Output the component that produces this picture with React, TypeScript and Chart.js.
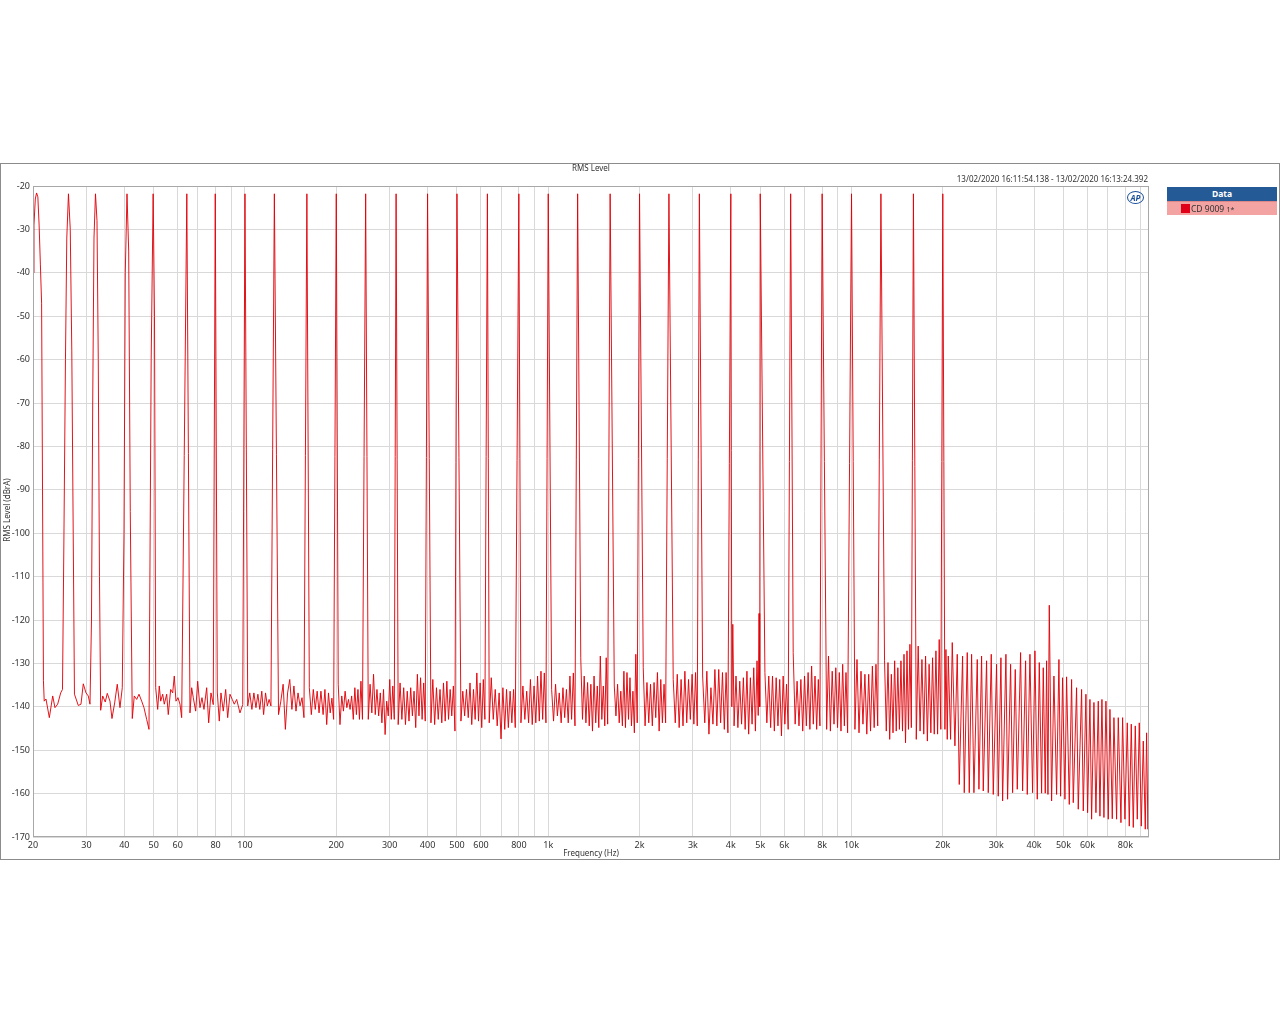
import React, { useEffect, useRef } from 'react';
import { Chart, registerables } from 'chart.js';

Chart.register(...registerables);

// Multitone peaks (Hz, dBrA)
const toneFreqs: number[] = [20.55, 26.18, 32.14, 40.83, 49.8, 64.3, 79.8, 100, 125, 160, 200, 250, 315, 400, 500, 630, 800, 1000, 1250, 1600, 2000, 2500, 3150, 4000, 5000, 6300, 8000, 10000, 12500, 16000, 20000];
const toneLevels: number[] = [-21.6, -21.8, -21.8, -21.8, -21.8, -21.8, -21.8, -21.8, -21.8, -21.8, -21.8, -21.8, -21.8, -21.8, -21.8, -21.8, -21.8, -21.8, -21.8, -21.8, -21.8, -21.8, -21.8, -21.8, -21.8, -21.8, -21.8, -21.8, -21.8, -21.8, -21.8];

// Trace between the tones: [frequency Hz, level dBrA]
const trace20: [number, number][] = [
  [20, -40], [20.15, -29], [20.35, -23], [20.75, -22.5], [20.95, -29], [21.15, -38], [21.35, -47], [21.5, -90], [21.65, -134],
  [21.78, -138.7], [22.07, -138.2], [22.64, -142.5], [23.23, -137.5], [23.63, -140.2], [24.12, -139.4], [24.68, -136.8],
  [25.02, -136], [25.3, -100], [25.59, -60], [25.85, -32], [26.54, -30], [26.85, -58], [27.14, -100], [27.4, -137.1],
  [28.21, -139.7], [28.79, -139.4], [29.3, -134.7], [29.91, -136.8], [30.43, -137.5], [30.83, -139.4],
  [31.18, -120], [31.47, -70], [31.78, -32], [32.51, -28], [32.83, -60], [33.13, -110],
  [33.43, -140.8], [33.95, -137.5], [34.62, -138.9], [35.15, -136.9], [35.88, -138.7], [36.43, -142.7], [37.18, -139.1], [37.92, -134.8], [38.71, -140.2], [39.39, -135.6],
  [39.91, -100], [40.3, -40], [41.36, -35], [41.86, -95],
  [42.5, -142.7], [43.15, -137.5], [43.95, -138.3], [44.72, -137.1], [45.65, -138.7], [46.45, -140.2], [47.41, -142.9], [48.25, -145.2],
  [49.06, -60], [50.31, -50],
  [50.77, -135.6], [51.54, -140.6], [52.17, -135.2], [52.73, -138.7], [53.54, -137.1], [54.19, -139.4], [55.19, -137.1], [55.86, -141.8], [56.89, -136], [57.76, -136.8], [58.47, -132.9], [59.22, -138.7], [60.13, -137.9], [61.05, -139.4], [61.84, -142.5],
  [65.86, -141.4], [66.72, -135.6], [67.53, -137.9], [68.78, -141], [69.83, -134.1], [71.06, -140.2], [72.15, -137.9], [73.25, -140.6], [74.77, -135.6], [75.91, -143.7], [77.25, -136.8], [78.6, -139.5],
  [81.03, -136.6], [82.27, -143.3], [83.34, -136.8], [84.81, -141], [86.37, -136], [87.69, -142.5], [89.23, -137.1], [90.81, -138.3], [92.2, -139.4], [93.89, -138.3], [95.04, -139.8], [96.27, -141.4], [98.3, -139.5],
];

const trace100: [number, number][] = [
  [102.1, -139.8], [103.7, -136.8], [105.4, -140.6], [107, -136.8], [108.7, -140.2], [110.3, -137.1], [111.9, -140.6], [113.6, -136.4], [115.2, -141.8], [116.9, -136.8], [118.5, -139.8], [120.1, -138.3], [121.8, -139.8],
  [129, -141.8], [131.3, -138.7], [133.6, -134.8], [135.9, -145.2], [138.2, -136.8], [140.5, -133.7], [142.8, -140.6], [145, -135.2], [147.3, -141], [149.6, -136.8], [151.9, -139.8], [154.2, -137.9], [156.5, -142.5],
  [163, -135.6], [165.5, -141.8], [168, -136], [170.5, -140.6], [173, -136.4], [175.5, -141.4], [178, -136.4], [181, -141.8], [183.5, -136], [186, -144.1], [188.5, -136.8], [191, -141.4], [193.5, -138], [196, -142.9],
  [203, -134.8], [205.7, -144.1], [208.5, -137.5], [211.2, -141], [213.9, -136.4], [216.7, -140.2], [219.4, -138.3], [222.1, -140.6], [224.8, -137.5], [227.6, -142.9], [230.3, -135.6], [233, -141.8], [235.8, -136], [238.5, -142.9], [241.2, -134.1], [244, -142.9],
  [255, -142.9], [258.5, -134.8], [262, -141.4], [265.4, -132.5], [268.9, -141.8], [272.4, -136], [275.9, -142.1], [279.4, -136.8], [282.8, -143.7], [286.3, -136], [289.8, -146.4], [293.3, -138.7], [296.8, -142.1], [300.2, -133.7], [303.7, -142.9], [307.2, -135.2], [310.7, -142.9],
  [320, -144.1], [324.6, -134.5], [329.1, -142.9], [333.7, -135.6], [338.2, -144.1], [342.8, -136.4], [347.4, -143.3], [351.9, -135.6], [356.5, -142.1], [361, -136.4], [365.6, -144.8], [370.2, -132.5], [374.7, -142.1], [379.3, -133.3], [383.8, -142.9], [388.4, -134.5], [393, -143.3],
  [410.4, -143.7], [416.3, -133.7], [422.1, -144.1], [428, -135.6], [433.8, -142.9], [439.7, -136], [445.6, -143.7], [451.4, -134.5], [457.3, -143.3], [463.1, -134.1], [469, -142.9], [474.9, -136], [480.7, -142.1], [486.6, -135.2], [492.5, -145.6],
  [515.4, -143.3], [522.7, -136.4], [530.1, -142.1], [537.4, -136], [544.8, -142.5], [552.1, -134.5], [559.4, -144.1], [566.8, -136], [574.1, -142.9], [581.5, -132.2], [588.8, -143.3], [596.2, -134.5], [603.5, -144.8], [610.8, -133.7], [618.2, -142.9],
  [638.8, -143.7], [648.8, -133.3], [658.8, -142.9], [668.7, -136], [678.7, -144.4], [688.7, -136.8], [698.7, -147.4], [708.7, -135.6], [718.6, -145.2], [728.6, -136], [738.6, -144.8], [748.6, -136.4], [758.6, -143.7], [768.5, -136], [778.5, -144.8],
  [812.8, -143.7], [824.9, -135.2], [837.1, -142.9], [849.2, -136.4], [861.4, -143.7], [873.5, -133.7], [885.6, -144.1], [897.8, -135.2], [909.9, -143.7], [922.1, -132.9], [934.2, -143.3], [946.3, -131.8], [958.5, -142.9], [970.6, -132.2], [982.7, -143.7],
];

const trace1k: [number, number][] = [
  [1026, -136], [1041, -143.3], [1057, -134.8], [1072, -142.1], [1087, -136.8], [1103, -143.7], [1118, -135.6], [1133, -142.5], [1148, -136], [1164, -143.7], [1179, -132.9], [1194, -142.9], [1210, -132.2], [1225, -144.4],
  [1280, -128.7], [1297, -142.9], [1314, -132.9], [1331, -143.7], [1348, -134.4], [1365, -144.4], [1382, -134.8], [1399, -145.6], [1416, -132.9], [1434, -143.7], [1451, -135.2], [1468, -144.8], [1485, -128.3], [1502, -142.9], [1519, -135.2], [1536, -144.4], [1553, -128.7], [1570, -144],
  [1651, -135.2], [1672, -142.1], [1693, -134.8], [1714, -143.7], [1735, -136.4], [1756, -144.4], [1776, -131.8], [1797, -144.8], [1818, -132.1], [1839, -142.9], [1860, -133.3], [1881, -144.4], [1902, -136.4], [1923, -146], [1944, -127.9], [1965, -143.7],
  [2057, -131], [2086, -144.4], [2116, -134.4], [2145, -143.7], [2174, -134.8], [2204, -144.4], [2233, -134.4], [2262, -142.5], [2291, -132.1], [2321, -145.6], [2350, -133.7], [2379, -143.7], [2409, -134.8], [2438, -143.7],
  [2583, -133.7], [2623, -143.7], [2663, -132.5], [2702, -144.8], [2742, -133.7], [2782, -144.4], [2822, -131.8], [2862, -143.7], [2901, -133.7], [2941, -142.9], [2981, -132.5], [3021, -144], [3060, -132.1], [3100, -144.4],
  [3229, -132.9], [3282, -143.7], [3334, -131.8], [3387, -146.3], [3439, -135.6], [3492, -144], [3544, -131.4], [3597, -144.4], [3649, -131.4], [3702, -143.7], [3754, -132.1], [3807, -145.2], [3859, -132.1], [3912, -146],
  [4030, -140], [4060, -121], [4100, -144.4], [4160, -132.9], [4220, -144.8], [4280, -134.1], [4340, -144], [4400, -133.3], [4460, -145.2], [4520, -131.8], [4580, -146.3], [4640, -133.3], [4700, -144], [4760, -131], [4820, -145.6], [4880, -129.4], [4925, -142], [4955, -118.5], [4980, -140],
  [5181, -132.1], [5258, -143.7], [5335, -132.9], [5412, -144.8], [5489, -132.9], [5566, -145.6], [5643, -133.3], [5720, -144.4], [5797, -133.7], [5874, -146.7], [5951, -132.9], [6028, -144], [6105, -134.8], [6182, -145.2],
  [6422, -127.5], [6518, -144], [6615, -134.1], [6711, -144.4], [6808, -133.7], [6904, -145.6], [7000, -132.9], [7097, -144.4], [7193, -132.1], [7290, -145.2], [7386, -130.6], [7482, -144], [7579, -132.9], [7675, -145.2], [7772, -133.7], [7868, -144.4],
  [8279, -145.2], [8398, -128.3], [8517, -145.6], [8636, -131.8], [8755, -144], [8874, -131], [8993, -144.8], [9113, -132.1], [9232, -145.6], [9351, -130.2], [9470, -144.4], [9589, -132.1], [9708, -146],
];

const trace10k: [number, number][] = [
  [10262, -145.2], [10424, -129.1], [10585, -146], [10747, -131.8], [10908, -144], [11070, -132.5], [11231, -146.3], [11393, -132.5], [11554, -145.6], [11716, -130.6], [11877, -144.8], [12039, -130.2], [12200, -144.4],
  [12850, -129.4], [13021, -145.6], [13191, -129.8], [13362, -147.5], [13532, -132.5], [13703, -146], [13874, -129.4], [14044, -145.6], [14215, -131], [14385, -145.2], [14556, -129.4], [14726, -145.6], [14897, -127.9], [15068, -148.3], [15238, -127.1], [15409, -145.2], [15579, -125.6], [15750, -144.8],
  [16350, -147.5], [16589, -126], [16829, -145.6], [17068, -129.1], [17307, -146.3], [17546, -128.3], [17786, -147.9], [18025, -130.2], [18264, -146], [18504, -128.7], [18743, -146.3], [18982, -127.1], [19221, -146.3], [19461, -124.5], [19700, -145.2],
];

const trace20k: [number, number][] = [
  [20322, -145.2], [20478, -126.8], [20687, -147.5], [20845, -128.3], [21216, -147.5], [21486, -125.2], [21925, -149], [22317, -127.9], [22659, -157.9], [23240, -128.3], [23537, -159.8], [24080, -127.5], [24448, -159.8], [24885, -127.9], [25329, -159.8], [25978, -129.1], [26310, -159], [26847, -128.3], [27190, -159.4], [27886, -129.4], [28240, -159.8], [28891, -127.9], [29333, -160.2], [30086, -130.2], [30470, -160.6],
  [31092, -128.7], [31489, -161.7], [32296, -127.9], [32706, -161.3], [33461, -130.2], [33973, -159.8], [34667, -131.4], [35198, -159], [36100, -127.5], [36653, -159.4], [37498, -129.4], [37977, -160.2], [38753, -127.9], [39543, -159.8], [40253, -127.1], [40972, -161.3], [41600, -129.8], [42343, -159.9], [42880, -131], [43537, -159.9], [43983, -129.4], [44430, -160.2], [44881, -116.6],
  [45680, -161.7], [46496, -132.9], [47449, -160.2], [48295, -129.1], [48912, -160.6], [49657, -133.3], [50548, -161.3], [51190, -133.1], [52240, -162.5], [53172, -133.7], [53848, -162.1], [55226, -135.6], [55932, -163.6], [57367, -136], [58099, -164], [59286, -137.1], [60043, -164.4], [61115, -138.3], [61891, -165.9], [62999, -139], [63958, -164.4],
  [65106, -138.7], [65933, -165.2], [66944, -138.3], [67969, -165.5], [69009, -138.7], [70243, -165.9], [71133, -140.6], [72410, -165.8], [73331, -142.5], [74834, -165.9], [75784, -142.5], [77339, -166.7], [78320, -142.5], [79718, -165.9], [81149, -143.7], [82384, -167.5], [83646, -144], [84928, -167.8], [86229, -144.4], [87550, -165.9], [88891, -143.7], [90253, -167.5], [91626, -147.9], [93029, -168.2], [93970, -146], [94930, -168.2], [95660, -151],
];

const xTickValues: number[] = [20, 30, 40, 50, 60, 70, 80, 90, 100, 200, 300, 400, 500, 600, 700, 800, 900, 1000, 2000, 3000, 4000, 5000, 6000, 7000, 8000, 9000, 10000, 20000, 30000, 40000, 50000, 60000, 70000, 80000, 90000];
const xTickLabels: string[] = ['20', '30', '40', '50', '60', '', '80', '', '100', '200', '300', '400', '500', '600', '', '800', '', '1k', '2k', '3k', '4k', '5k', '6k', '', '8k', '', '10k', '20k', '30k', '40k', '50k', '60k', '', '80k', ''];

const X_MIN = 20;
const X_MAX = 95700;
const Y_MIN = -170;
const Y_MAX = -20;

const FONT = '"Noto Sans", "Open Sans", "DejaVu Sans", sans-serif';

const frameBorder = {
  id: 'frameBorder',
  afterDraw(chart: any) {
    const { ctx, chartArea } = chart;
    ctx.save();
    ctx.strokeStyle = '#a8a8a8';
    ctx.lineWidth = 1;
    ctx.strokeRect(chartArea.left + 0.5, chartArea.top + 0.5, chartArea.right - chartArea.left - 1, chartArea.bottom - chartArea.top - 1);
    ctx.restore();
  },
};

export default function App() {
  const canvasRef = useRef<HTMLCanvasElement | null>(null);

  useEffect(() => {
    if (!canvasRef.current) return;
    const tones: [number, number][] = toneFreqs.map((f, i) => [f, toneLevels[i]]);
    const all = [...trace20, ...trace100, ...trace1k, ...trace10k, ...trace20k, ...tones]
      .sort((a, b) => a[0] - b[0])
      .map(([x, y]) => ({ x, y }));

    const chart = new Chart(canvasRef.current, {
      type: 'line',
      data: {
        datasets: [
          {
            label: 'CD 9009',
            data: all,
            borderColor: 'rgba(224,0,8,0.92)',
            borderWidth: 1,
            pointRadius: 0,
            tension: 0,
            fill: false,
          },
        ],
      },
      plugins: [frameBorder],
      options: {
        animation: false,
        responsive: false,
        maintainAspectRatio: false,
        parsing: false as any,
        normalized: true,
        layout: { padding: { top: 22, right: 11, left: 0, bottom: 0 } },
        plugins: { legend: { display: false }, tooltip: { enabled: false }, title: { display: false } },
        scales: {
          x: {
            type: 'logarithmic',
            min: X_MIN,
            max: X_MAX,
            afterBuildTicks: (s: any) => {
              s.ticks = xTickValues.map((v) => ({ value: v }));
            },
            afterFit: (s: any) => {
              s.height = 21;
            },
            ticks: {
              autoSkip: false,
              maxRotation: 0,
              minRotation: 0,
              padding: 3,
              color: '#333',
              font: { size: 9, family: FONT },
              callback: (_v: any, i: number) => xTickLabels[i],
            },
            grid: { color: '#d9d9d9', drawTicks: false, lineWidth: 1 },
            border: { display: false },
          },
          y: {
            type: 'linear',
            min: Y_MIN,
            max: Y_MAX,
            afterFit: (s: any) => {
              s.width = 33;
            },
            ticks: { stepSize: 10, padding: 3, color: '#333', font: { size: 9, family: FONT } },
            grid: { color: '#d9d9d9', drawTicks: false, lineWidth: 1 },
            border: { display: false },
          },
        },
      } as any,
    });
    return () => chart.destroy();
  }, []);

  const txt: React.CSSProperties = { position: 'absolute', fontFamily: FONT, color: '#333', whiteSpace: 'nowrap' };

  return (
    <div style={{ position: 'absolute', left: 0, top: 0, width: 1280, height: 1024, background: '#fff' }}>
      <div style={{ position: 'absolute', left: 0, top: 163, width: 1278, height: 695, border: '1px solid #8c8c8c' }} />
      <canvas ref={canvasRef} width={1160} height={694} style={{ position: 'absolute', left: 0, top: 164, width: 1160, height: 694 }} />
      <div style={{ ...txt, left: 33, width: 1116, top: 163, lineHeight: '10px', fontSize: 8, textAlign: 'center' }}>RMS Level</div>
      <div style={{ ...txt, left: 700, width: 448, top: 174, lineHeight: '10px', fontSize: 8, textAlign: 'right' }}>
        13/02/2020 16:11:54.138 - 13/02/2020 16:13:24.392
      </div>
      <div style={{ ...txt, left: 491, width: 200, top: 848, lineHeight: '10px', fontSize: 8, textAlign: 'center' }}>Frequency (Hz)</div>
      <div
        style={{
          ...txt,
          left: -93,
          width: 200,
          top: 505,
          lineHeight: '10px',
          fontSize: 8,
          textAlign: 'center',
          transform: 'rotate(-90deg)',
        }}
      >
        RMS Level (dBrA)
      </div>
      <div
        style={{
          ...txt,
          left: 1127,
          top: 191,
          width: 15,
          height: 11,
          lineHeight: '11px',
          fontSize: 8,
          fontWeight: 'bold',
          fontStyle: 'italic',
          color: '#1b4f9c',
          border: '1px solid #1b4f9c',
          borderRadius: '50%',
          textAlign: 'center',
        }}
      >
        AP
      </div>
      <div style={{ position: 'absolute', left: 1167, top: 187, width: 110, fontFamily: FONT }}>
        <div style={{ height: 14, background: '#245a96', color: '#fff', fontWeight: 'bold', fontSize: 8.5, lineHeight: '14px', textAlign: 'center' }}>
          Data
        </div>
        <div style={{ height: 13, background: '#f4a3a3', borderTop: '1px solid #d88', position: 'relative', fontSize: 8.5, lineHeight: '13px', color: '#333' }}>
          <span style={{ position: 'absolute', left: 14, top: 2, width: 9, height: 9, background: '#e00018' }} />
          <span style={{ position: 'absolute', left: 24, top: 0 }}>
            CD 9009 <span style={{ fontSize: 7 }}>1*</span>
          </span>
        </div>
      </div>
    </div>
  );
}
